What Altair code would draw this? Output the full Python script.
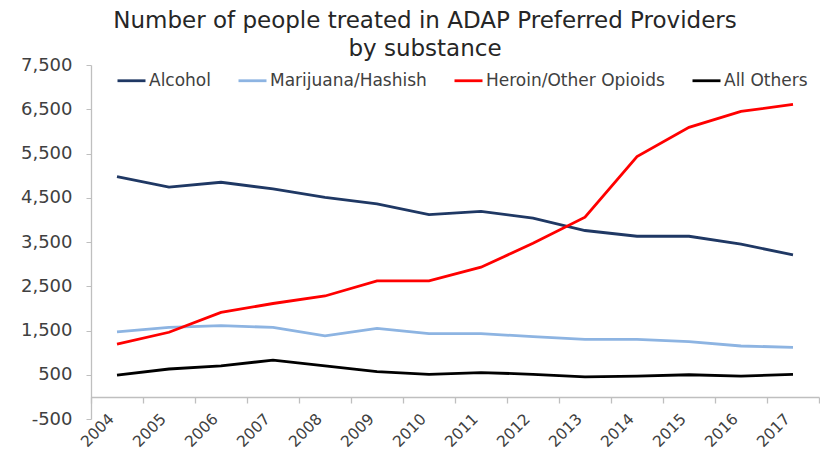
import altair as alt
import pandas as pd

years = ["2004", "2005", "2006", "2007", "2008", "2009", "2010",
         "2011", "2012", "2013", "2014", "2015", "2016", "2017"]
series = ["Alcohol", "Marijuana/Hashish", "Heroin/Other Opioids", "All Others"]
colors = ["#1F3864", "#8DB4E2", "#FF0000", "#000000"]

alcohol = [4980, 4740, 4850, 4700, 4510, 4360, 4120, 4190, 4040, 3760, 3630, 3630, 3450, 3210]
marijuana = [1470, 1570, 1610, 1570, 1380, 1550, 1430, 1430, 1360, 1300, 1300, 1250, 1150, 1120]
heroin = [1190, 1460, 1910, 2110, 2280, 2620, 2620, 2930, 3470, 4060, 5430, 6090, 6450, 6610]
others = [490, 630, 700, 830, 700, 570, 510, 550, 510, 450, 470, 500, 470, 510]

y_ticks = [-500, 500, 1500, 2500, 3500, 4500, 5500, 6500, 7500]

rows = []
for name, vals in zip(series, [alcohol, marijuana, heroin, others]):
    for yr, v in zip(years, vals):
        rows.append({"year": yr, "series": name, "value": v})
df = pd.DataFrame(rows)

FONT = "DejaVu Sans"
GRAY = "#BFBFBF"
LABEL = "#404040"

chart = alt.Chart(df).mark_line(strokeWidth=2.8).encode(
    x=alt.X(
        "year:O",
        sort=years,
        bandPosition=0.5,
        scale=alt.Scale(type="band", paddingInner=0, paddingOuter=0),
        axis=alt.Axis(
            title=None, offset=-22, domainColor=GRAY, domainWidth=1.3,
            tickColor=GRAY, tickSize=6, tickWidth=1.3, tickBand="extent",
            labelAngle=-45, labelAlign="right", labelBaseline="middle",
            labelPadding=13, labelOffset=-6, labelFont=FONT, labelFontSize=15.5,
            labelColor=LABEL,
        ),
    ),
    y=alt.Y(
        "value:Q",
        scale=alt.Scale(domain=[-500, 7500], nice=False, zero=False),
        axis=alt.Axis(
            title=None, values=y_ticks, grid=False,
            labelExpr="replace(format(datum.value, ','), '\u2212', '-')",
            domainColor=GRAY, domainWidth=1.3, tickColor=GRAY, tickSize=5,
            labelPadding=14, labelFont=FONT, labelFontSize=18, labelColor=LABEL,
        ),
    ),
    color=alt.Color(
        "series:N",
        sort=series,
        scale=alt.Scale(domain=series, range=colors),
        legend=alt.Legend(
            title=None, orient="none", legendX=25, legendY=0,
            direction="horizontal", symbolType="stroke", symbolSize=784,
            symbolStrokeWidth=2.8, labelFont=FONT, labelFontSize=17,
            labelColor=LABEL, columnPadding=21, labelOffset=2, labelLimit=400,
        ),
    ),
).properties(
    width=728,
    height=354,
    title=alt.Title(
        text=["Number of people treated in ADAP Preferred Providers", "by substance"],
        font=FONT, fontSize=23, fontWeight="normal", color="#262626",
        anchor="middle", dx=-30, lineHeight=28, offset=-5,
    ),
    padding={"left": 91, "top": 65, "right": 1, "bottom": 33},
    autosize=alt.AutoSizeParams(type="none"),
).configure_view(stroke=None)

chart.save("out.html", embed_options={"renderer": "svg", "actions": False})
